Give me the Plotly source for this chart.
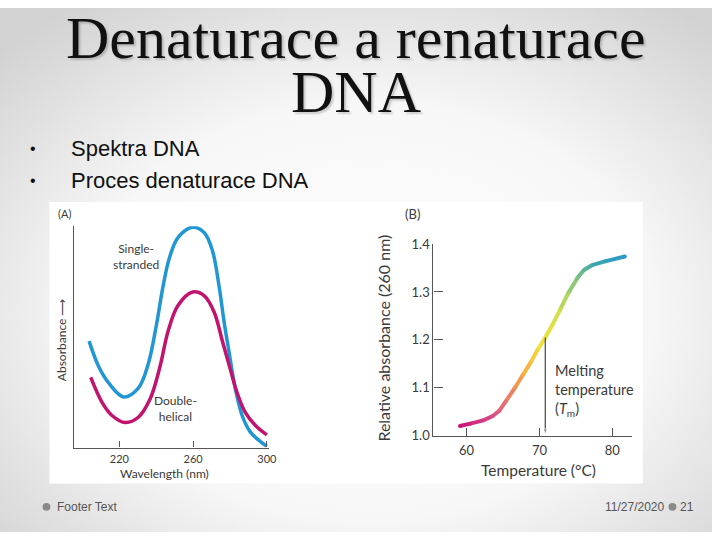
import base64
import plotly.graph_objects as go
from plotly.colors import sample_colorscale

W, H = 720, 540

# ---------------- data ----------------
# Panel A: absorbance spectra (arbitrary units)
wl_single = [203.6, 208.9, 214.3, 222.3, 230.3, 235.7, 240.1, 243.7, 247.3, 251.8, 259.8,
             266.1, 270.5, 274.1, 276.8, 279.4, 283.0, 286.6, 291.0, 296.4, 300.0]
abs_single = [0.481, 0.364, 0.291, 0.229, 0.269, 0.379, 0.554, 0.729, 0.861, 0.949, 0.996,
              0.971, 0.890, 0.729, 0.569, 0.437, 0.262, 0.145, 0.071, 0.028, 0.006]
wl_double = [204.5, 210.7, 216.0, 223.2, 230.3, 236.6, 242.0, 246.4, 251.8, 259.8,
             266.1, 271.4, 275.9, 280.3, 283.9, 288.3, 293.7, 300.0]
abs_double = [0.317, 0.203, 0.145, 0.113, 0.137, 0.218, 0.364, 0.525, 0.642, 0.703,
              0.686, 0.613, 0.481, 0.350, 0.247, 0.159, 0.101, 0.057]
wl_ticks = [220, 260, 300]

# Panel B: melting curve
temp = [59.1, 60.5, 62.3, 63.6, 64.5, 65.4, 66.6, 67.7, 68.8, 69.7, 70.8,
        71.8, 72.9, 74.0, 75.2, 76.1, 77.2, 79.0, 81.7]
rel_abs = [1.020, 1.025, 1.032, 1.041, 1.052, 1.072, 1.099, 1.126, 1.153, 1.178, 1.205,
           1.232, 1.265, 1.299, 1.329, 1.346, 1.356, 1.364, 1.374]
temp_ticks = [60, 70, 80]
abs_ticks = [1.0, 1.1, 1.2, 1.3, 1.4]
tm = 70.8
tm_abs = 1.205

# ---------------- helpers ----------------
def px(x):
    return x / W

def py(y):
    return 1 - y / H

AX = "#555555"
TXT = "#3a3a3a"
BLUE = "#2196d4"
MAG = "#c2136f"
PANEL_FONT = "Lato, Open Sans, sans-serif"

fig = go.Figure()

# Panel A curves
fig.add_trace(go.Scatter(x=wl_single, y=abs_single, mode="lines",
                         line=dict(color=BLUE, width=3.5, shape="spline", smoothing=1.0),
                         xaxis="x", yaxis="y", hoverinfo="skip"))
fig.add_trace(go.Scatter(x=wl_double, y=abs_double, mode="lines",
                         line=dict(color=MAG, width=3.5, shape="spline", smoothing=1.0),
                         xaxis="x", yaxis="y", hoverinfo="skip"))

# Panel B gradient curve
cscale = [[0.0, "#c8157a"], [0.2, "#d94d88"], [0.3, "#ec7d66"], [0.4, "#f6b23c"],
          [0.5, "#f5e23a"], [0.6, "#cfe04c"], [0.7, "#84c47c"], [0.8, "#3ea9a6"], [1.0, "#2a97cf"]]
t0, t1 = min(temp), max(temp)
norm = [(t - t0) / (t1 - t0) for t in temp]
pt_colors = sample_colorscale(cscale, norm)
for i in range(len(temp) - 1):
    mid = (norm[i] + norm[i + 1]) / 2
    c = sample_colorscale(cscale, [mid])[0]
    fig.add_trace(go.Scatter(x=temp[i:i + 2], y=rel_abs[i:i + 2], mode="lines",
                             line=dict(color=c, width=4), xaxis="x2", yaxis="y2", hoverinfo="skip"))
fig.add_trace(go.Scatter(x=temp, y=rel_abs, mode="markers",
                         marker=dict(color=pt_colors, size=4, line=dict(width=0)),
                         xaxis="x2", yaxis="y2", hoverinfo="skip"))

# Tm arrow (vertical line down to the axis)
fig.add_trace(go.Scatter(x=[tm, tm], y=[tm_abs, abs_ticks[0]], mode="lines+markers",
                         line=dict(color="#444444", width=1.2),
                         marker=dict(symbol=["circle", "arrow"], size=[0, 6], color="#444444",
                                     angleref="previous", standoff=1),
                         xaxis="x2", yaxis="y2", hoverinfo="skip"))

# ---------------- background ----------------
svg = ('<svg xmlns="http://www.w3.org/2000/svg" width="720" height="540">'
       '<defs><radialGradient id="g" cx="52%" cy="58%" r="72%">'
       '<stop offset="0" stop-color="#ffffff"/><stop offset="0.55" stop-color="#f7f7f7"/>'
       '<stop offset="1" stop-color="#d2d2d2"/></radialGradient></defs>'
       '<rect width="720" height="540" fill="url(#g)"/></svg>')
bg_src = "data:image/svg+xml;base64," + base64.b64encode(svg.encode()).decode()

shapes = [
    dict(type="rect", xref="paper", yref="paper", x0=px(50), x1=px(650), y0=py(490), y1=py(200),
         fillcolor="white", line=dict(width=0), layer="below"),
    dict(type="circle", xref="paper", yref="paper", x0=px(43), x1=px(51), y0=py(518), y1=py(510),
         fillcolor="#8a8a8a", line=dict(width=0)),
    dict(type="circle", xref="paper", yref="paper", x0=px(676), x1=px(684), y0=py(518), y1=py(510),
         fillcolor="#8a8a8a", line=dict(width=0)),
]

ann = []
def text(x, y, s, size, color=TXT, family=PANEL_FONT, xanchor="center", yanchor="middle", **kw):
    ann.append(dict(xref="paper", yref="paper", x=px(x), y=py(y), text=s, showarrow=False,
                    xanchor=xanchor, yanchor=yanchor, font=dict(size=size, color=color, family=family), **kw))

# Slide title
title_font = "Liberation Serif, Times New Roman, serif"
for s, yy in [("Denaturace a renaturace", 31), ("DNA", 87)]:
    ann.append(dict(xref="paper", yref="paper", x=0.5, y=py(yy), text=s, showarrow=False,
                    xanchor="center", yanchor="middle",
                    font=dict(size=60, color="#111111", family=title_font,
                              shadow="2px 2px 2px rgba(0,0,0,0.18)")))

# Bullets
bfont = "Liberation Sans, Arial, sans-serif"
for s, yy in [("Spektra DNA", 145), ("Proces denaturace DNA", 178)]:
    text(28, yy, "•", 16, color="#111111", family=bfont, xanchor="left")
    text(70, yy, s, 22, color="#111111", family=bfont, xanchor="left")

# Footer
ffont = "Liberation Sans Narrow, Arial Narrow, Liberation Sans, sans-serif"
text(56, 514, "Footer Text", 12, color="#555555", family=ffont, xanchor="left")
text(673, 514, "11/27/2020", 12, color="#555555", family=ffont, xanchor="right")
text(686, 514, "21", 12, color="#555555", family=ffont, xanchor="left")

# Panel A labels
text(57, 212, "(A)", 11, xanchor="left")
text(138, 256, "Single-<br>stranded", 12)
text(177, 413, "Double-<br>helical", 12)
text(166, 480, "Wavelength (nm)", 12)
text(63, 342, "Absorbance \u27f6", 12, textangle=-90)

# Panel B labels
text(417, 212, "(B)", 13)
text(388, 340, "Relative absorbance (260 nm)", 16, textangle=-90)
text(545, 476, "Temperature (\u00b0C)", 15.5)
text(559, 394, "Melting<br>temperature<br>(<i>T</i><sub>m</sub>)", 14.5, xanchor="left", align="left")

axis_common = dict(showgrid=False, zeroline=False, showline=True, linecolor=AX, linewidth=1.2,
                   tickcolor=AX, tickwidth=1.2)

fig.update_layout(
    width=W, height=H, margin=dict(l=0, r=0, t=0, b=0),
    paper_bgcolor="white", plot_bgcolor="rgba(0,0,0,0)", showlegend=False,
    images=[dict(source=bg_src, xref="paper", yref="paper", x=0, y=1, sizex=1, sizey=1,
                 xanchor="left", yanchor="top", sizing="stretch", layer="below")],
    shapes=shapes, annotations=ann,
    xaxis=dict(domain=[px(75), px(271.7)], range=[195.5, 301], tickvals=wl_ticks, ticks="inside",
               ticklen=6, ticklabelstandoff=1,
               tickfont=dict(size=11, color=TXT, family=PANEL_FONT), anchor="y", **axis_common),
    yaxis=dict(domain=[py(453), py(225)], range=[0, 1.0], showticklabels=False, ticks="",
               anchor="x", **axis_common),
    xaxis2=dict(domain=[px(438.3), px(639.3)], range=[55.46, 82.72], tickvals=temp_ticks,
                ticks="inside", ticklen=8, ticklabelstandoff=3,
                tickfont=dict(size=13, color=TXT, family=PANEL_FONT), anchor="y2", **axis_common),
    yaxis2=dict(domain=[py(440.7), py(243.3)], range=[1.0, 1.4], tickvals=abs_ticks,
                ticks="inside", ticklen=9, tickformat=".1f",
                tickfont=dict(size=13, color=TXT, family=PANEL_FONT), anchor="x2", **axis_common),
)

fig.write_html("out.html")
